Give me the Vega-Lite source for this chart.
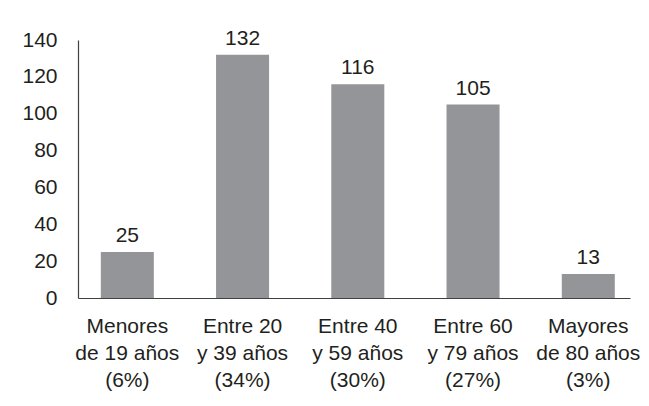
{
  "$schema": "https://vega.github.io/schema/vega-lite/v6.json",
  "width": 552,
  "height": 258,
  "autosize": {"type": "none"},
  "padding": {"left": 78, "top": 40, "right": 19, "bottom": 108},
  "background": "white",
  "config": {
    "view": {"stroke": null},
    "font": "Liberation Sans, Arial, sans-serif"
  },
  "data": {
    "values": [
      {"grupo": "Menores|de 19 años|(6%)", "valor": 25},
      {"grupo": "Entre 20|y 39 años|(34%)", "valor": 132},
      {"grupo": "Entre 40|y 59 años|(30%)", "valor": 116},
      {"grupo": "Entre 60|y 79 años|(27%)", "valor": 105},
      {"grupo": "Mayores|de 80 años|(3%)", "valor": 13}
    ]
  },
  "encoding": {
    "x": {
      "field": "grupo",
      "type": "nominal",
      "sort": null,
      "scale": {"paddingInner": 0.54, "paddingOuter": 0.165, "align": 0.6},
      "axis": {
        "title": null,
        "labelAngle": 0,
        "labelExpr": "split(datum.label, '|')",
        "labelFont": "Liberation Sans, Arial, sans-serif",
        "labelFontSize": 21,
        "labelLineHeight": 27,
        "labelColor": "#231f20",
        "labelPadding": 17,
        "ticks": false,
        "domainColor": "#404040",
        "domainWidth": 1.2,
        "grid": false
      }
    },
    "y": {
      "field": "valor",
      "type": "quantitative",
      "scale": {"domain": [0, 140], "nice": false},
      "axis": {
        "title": null,
        "values": [0, 20, 40, 60, 80, 100, 120, 140],
        "labelFont": "Liberation Sans, Arial, sans-serif",
        "labelFontSize": 21,
        "labelColor": "#231f20",
        "labelPadding": 21,
        "ticks": false,
        "grid": false,
        "domainColor": "#404040",
        "domainWidth": 1.2
      }
    }
  },
  "layer": [
    {"mark": {"type": "bar", "color": "#939598"}},
    {
      "mark": {
        "type": "text",
        "baseline": "alphabetic",
        "dy": -10,
        "fontSize": 21,
        "color": "#231f20",
        "font": "Liberation Sans, Arial, sans-serif"
      },
      "encoding": {"text": {"field": "valor", "type": "quantitative"}}
    }
  ]
}
